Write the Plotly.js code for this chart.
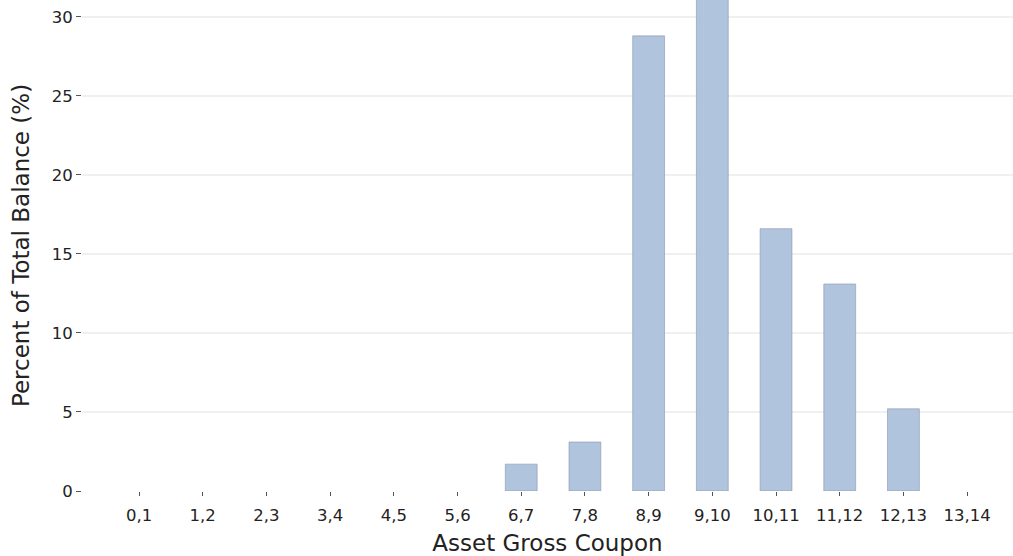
<!DOCTYPE html>
<html>
<head>
<meta charset="utf-8">
<script src="https://cdn.plot.ly/plotly-3.0.1.min.js"></script>
<style>body{margin:0}#plot{width:1013px;height:556px}</style>
</head>
<body>
<div id="plot"></div>
<script>
// coupon buckets and their share of total balance
const categories = ["0,1", "1,2", "2,3", "3,4", "4,5", "5,6", "6,7", "7,8", "8,9", "9,10", "10,11", "11,12", "12,13", "13,14"];
const percents = [0, 0, 0, 0, 0, 0, 1.7, 3.1, 28.8, 31.5, 16.6, 13.1, 5.2, 0];
const yTicks = [0, 5, 10, 15, 20, 25, 30];

// no outline on empty buckets
const outlineWidths = percents.map(v => (v > 0 ? 0.6 : 0));

Plotly.newPlot("plot", [{
  type: "bar",
  x: categories,
  y: percents,
  width: 0.5,
  marker: { color: "#b0c4de", line: { color: "#8a96a8", width: outlineWidths } }
}], {
  width: 1013,
  height: 556,
  margin: { l: 82, r: 0, t: 0, b: 65 },
  paper_bgcolor: "white",
  plot_bgcolor: "white",
  font: { family: "DejaVu Sans", color: "#222" },
  showlegend: false,
  xaxis: {
    type: "category",
    range: [-0.895, 13.72],
    showgrid: false,
    showline: false,
    ticks: "outside",
    ticklen: 4,
    tickcolor: "#555",
    ticklabelstandoff: 5,
    tickfont: { size: 16.5 },
    title: { text: "Asset Gross Coupon", font: { size: 23 }, standoff: 12 }
  },
  yaxis: {
    range: [0, 31.07],
    tickvals: yTicks,
    gridcolor: "#f0f0f0",
    gridwidth: 2,
    zeroline: false,
    showline: false,
    ticks: "outside",
    ticklen: 5,
    tickcolor: "#555",
    tickfont: { size: 16.5 },
    title: { text: "Percent of Total Balance (%)", font: { size: 23 }, standoff: 15 }
  }
}, { displayModeBar: false });
</script>
</body>
</html>
